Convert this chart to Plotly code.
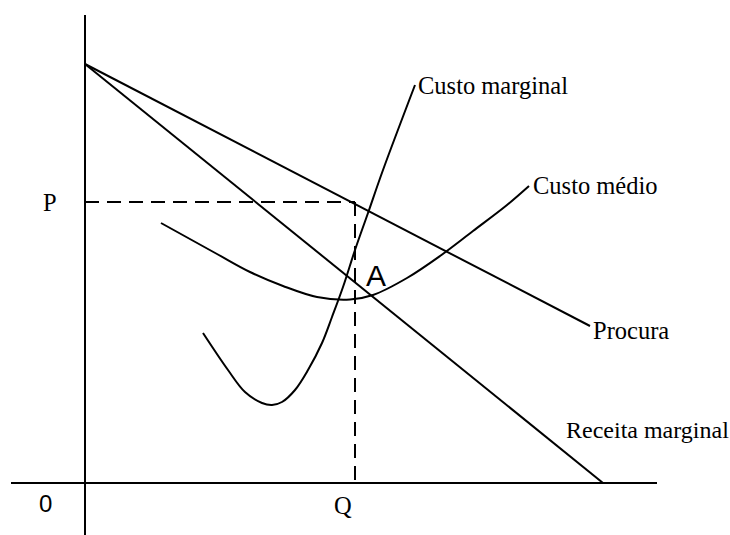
import plotly.graph_objects as go

# ---- data (quantity q, price p) ----
demand_q = [0, 101.0]
demand_p = [83.8, 31.4]

mr_q = [0, 103.6]
mr_p = [83.8, 0]

ac_q = [15.2, 26.4, 33.0, 39.6, 46.4, 53.0, 57.6, 64.4, 71.0, 77.6, 84.4, 88.8]
ac_p = [52.0, 45.8, 42.2, 39.4, 37.2, 36.7, 37.6, 41.0, 45.4, 50.4, 55.6, 59.4]

mc_q = [23.6, 28.6, 32.0, 35.4, 37.4, 39.4, 42.0, 44.6, 47.4, 49.4, 51.6, 54.0,
        56.6, 59.6, 66.0]
mc_p = [30.0, 22.6, 18.2, 16.0, 15.6, 16.2, 18.6, 22.6, 28.0, 33.2, 39.2, 46.6,
        54.0, 62.6, 79.6]

Q_eq = 54.0
P_eq = 56.2

yaxis_line_q = [0, 0]
yaxis_line_p = [-10.4, 93.6]
xaxis_line_q = [-14.8, 114.4]
xaxis_line_p = [0, 0]

labels = ["Custo marginal", "Custo médio", "Procura", "Receita marginal"]

# ---- figure ----
line = dict(color="black", width=2)
curve = dict(color="black", width=2, shape="spline", smoothing=1.0)
fig = go.Figure()
fig.add_trace(go.Scatter(x=yaxis_line_q, y=yaxis_line_p, mode="lines", line=line))
fig.add_trace(go.Scatter(x=xaxis_line_q, y=xaxis_line_p, mode="lines", line=line))
fig.add_trace(go.Scatter(x=demand_q, y=demand_p, mode="lines", line=line))
fig.add_trace(go.Scatter(x=mr_q, y=mr_p, mode="lines", line=line))
fig.add_trace(go.Scatter(x=ac_q, y=ac_p, mode="lines", line=curve))
fig.add_trace(go.Scatter(x=mc_q, y=mc_p, mode="lines", line=curve))
dash = dict(color="black", width=2, dash="14px,8px")
fig.add_trace(go.Scatter(x=[0, Q_eq], y=[P_eq, P_eq], mode="lines", line=dash))
fig.add_trace(go.Scatter(x=[Q_eq, Q_eq], y=[P_eq, 0], mode="lines", line=dash))

serif = dict(family="Liberation Serif, Times New Roman, serif", size=24.5, color="black")
serif_small = dict(family="Liberation Serif, Times New Roman, serif", size=24, color="black")
sans = dict(family="Liberation Sans, Arial, sans-serif", size=24, color="black")

ann = [
    dict(x=mc_q[-1] + 0.2, y=mc_p[-1], text=labels[0], xanchor="left", yanchor="middle", font=serif),
    dict(x=ac_q[-1] + 0.4, y=ac_p[-1] + 0.2, text=labels[1], xanchor="left", yanchor="middle", font=serif),
    dict(x=demand_q[-1] + 0.2, y=demand_p[-1] - 0.8, text=labels[2], xanchor="left", yanchor="middle", font=serif),
    dict(x=95.8, y=10.6, text=labels[3], xanchor="left", yanchor="middle", font=serif_small),
    dict(x=-7.0, y=P_eq, text="P", xanchor="center", yanchor="middle", font=serif),
    dict(x=Q_eq - 2.4, y=-4.4, text="Q", xanchor="center", yanchor="middle", font=serif),
    dict(x=-8.0, y=-4.0, text="0", xanchor="center", yanchor="middle", font=sans),
    dict(x=58.2, y=41.6, text="A", xanchor="center", yanchor="middle",
         font=dict(family="Liberation Sans, Arial, sans-serif", size=30, color="black")),
]
for a in ann:
    a.update(xref="x", yref="y", showarrow=False)

fig.update_layout(
    width=730, height=535,
    margin=dict(l=0, r=0, t=0, b=0),
    paper_bgcolor="white", plot_bgcolor="white",
    showlegend=False,
    annotations=ann,
    xaxis=dict(range=[-17, 129], visible=False, fixedrange=True),
    yaxis=dict(range=[-10.4, 96.6], visible=False, fixedrange=True),
)

fig.write_html("out.html", config={"displayModeBar": False},
               post_script="document.body.style.margin='0px';")
